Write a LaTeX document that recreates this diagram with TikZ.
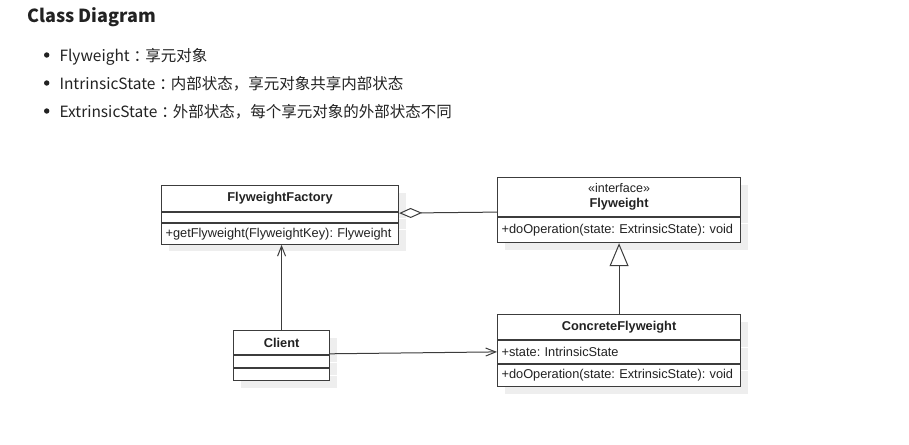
\documentclass[tikz,border=0pt]{standalone}
\usepackage{fontspec}
\newfontfamily\cjk{Noto Sans CJK SC}
\newfontfamily\umlfont{Liberation Sans}
\usetikzlibrary{positioning}
\usetikzlibrary{arrows.meta}
\usetikzlibrary{shadows}
\RequirePackage{xcolor}
\definecolor{ink}{HTML}{222222}
\definecolor{umlgray}{HTML}{3C3C3C}
\definecolor{shade}{HTML}{EEEEEE}
\newcommand{\fwcolon}{\kern4pt：\kern-4pt}
\tikzset{
  umlpart/.style={draw=umlgray, line width=1.1pt, fill=white, inner xsep=4pt, inner ysep=0pt,
    text width=#1, align=left, text=ink, font=\umlfont\frenchspacing\fontsize{12.8}{15}\selectfont,
    drop shadow={shadow xshift=7pt, shadow yshift=-7pt, fill=shade, opacity=1}},
  umltitle/.style={align=center, font=\umlfont\bfseries\fontsize{12.8}{15}\selectfont},
  umlline/.style={draw=umlgray, line width=1pt}
}

\begin{document}
\begin{tikzpicture}[x=1pt, y=-1pt]
     \useasboundingbox (0,0) rectangle (909,444);
     \node[anchor=base west, inner sep=0pt, text=ink, font=\cjk\bfseries\fontsize{18}{20}\selectfont] (title) at (27,22.7) {Class Diagram};
     \foreach \t [count=\i] in {Flyweight\fwcolon 享元对象, IntrinsicState\fwcolon 内部状态，享元对象共享内部状态, ExtrinsicState\fwcolon 外部状态，每个享元对象的外部状态不同}
     {\fill[ink] (46.7, 27+28*\i) circle (2.7pt);
      \node[anchor=base west, inner sep=0pt, text=ink, font=\cjk\fontsize{15.5}{18}\selectfont] (item\i) at (59.3, 33.5+28*\i) {\t};
     }
     % FlyweightFactory
     \node[umlpart=229pt, umltitle, minimum height=25.5pt, anchor=north west] (fac) at (161,185) {FlyweightFactory};
     \node[umlpart=229pt, minimum height=10pt, below=0pt of fac] (facA) {};
     \node[umlpart=229pt, minimum height=21pt, below=0pt of facA] (facM) {+getFlyweight(FlyweightKey): Flyweight};
     % Flyweight
     \node[umlpart=235pt, umltitle, minimum height=38.4pt, anchor=north west] (fw) at (497,177.3) {{\mdseries\fontsize{12.5}{14}\selectfont «interface»}\\Flyweight};
     \node[umlpart=235pt, minimum height=25.3pt, below=0pt of fw] (fwM) {+doOperation(state: ExtrinsicState): void};
     % Client
     \node[umlpart=88pt, umltitle, minimum height=24pt, anchor=north west] (cl) at (233,330) {Client};
     \node[umlpart=88pt, minimum height=12pt, below=0pt of cl] (clA) {};
     \node[umlpart=88pt, minimum height=12pt, below=0pt of clA] (clM) {};
     % ConcreteFlyweight
     \node[umlpart=235pt, umltitle, minimum height=25pt, anchor=north west] (cf) at (497,314) {ConcreteFlyweight};
     \node[umlpart=235pt, minimum height=22.5pt, below=0pt of cf] (cfA) {+state: IntrinsicState};
     \node[umlpart=235pt, minimum height=22.5pt, below=0pt of cfA] (cfM) {+doOperation(state: ExtrinsicState): void};

     \draw[umlline, {Diamond[open, length=23pt, width=10pt]}-] ([yshift=-1.5pt]facA.north east) -- ([yshift=4.7pt]fw.south west);
     \draw[umlline, -{Straight Barb[length=10pt, width=8pt]}] (cl.north) -- (cl.north |- facM.south);
     \draw[umlline, -{Straight Barb[length=10pt, width=8pt]}] ([yshift=1.3pt]cl.south east) -- (cfA.west);
     \draw[umlline, -{Triangle[open, length=23pt, width=19pt]}] (cf.north) -- (cf.north |- fwM.south);
%      \draw[umlline, dashed] (fw.east) -- (cf.east);
\end{tikzpicture}
\end{document}
